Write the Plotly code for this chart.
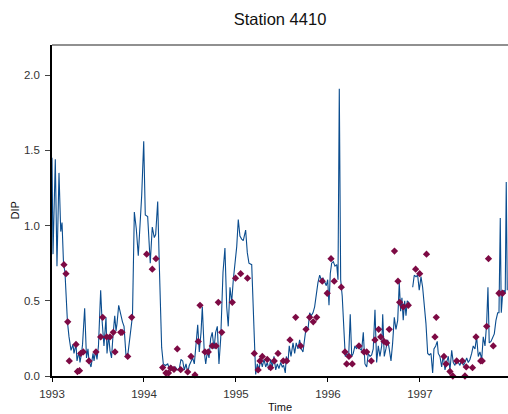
import plotly.graph_objects as go

# Weekly DIP record (decimal year, concentration); None marks a missing week
line_time = [
    1993.000, 1993.011, 1993.036, 1993.054, 1993.076, 1993.095, 1993.109, 1993.125,
    1993.141, 1993.168, 1993.185, 1993.207, 1993.228, 1993.239, 1993.261, 1993.272,
    1993.293, 1993.304, 1993.321, 1993.332, 1993.355, 1993.375, 1993.391, 1993.402,
    1993.424, 1993.446, 1993.457, 1993.473, 1993.489, 1993.505, 1993.529, 1993.543,
    1993.565, 1993.587, 1993.598, 1993.616, 1993.630, 1993.647, 1993.663, 1993.682,
    1993.696, 1993.707, 1993.725, 1993.739, 1993.750, 1993.766, 1993.783, 1993.804,
    1993.826, 1993.853, 1993.875, 1993.895, 1993.916, 1993.938, 1993.957, 1993.975,
    1993.997, 1994.014, 1994.040, 1994.054, 1994.068, 1994.090, 1994.112, 1994.127,
    1994.149, 1994.166, 1994.179, 1994.192, 1994.210, 1994.232, 1994.258, 1994.275,
    1994.293, 1994.312, 1994.340, 1994.366, 1994.384, 1994.402, 1994.421, 1994.438,
    1994.457, 1994.475, 1994.492, 1994.511, 1994.529, 1994.547, 1994.565, 1994.584,
    1994.601, 1994.620, 1994.634, 1994.655, 1994.671, 1994.688, 1994.707, 1994.725,
    1994.742, 1994.761, 1994.779, 1994.797, 1994.815, 1994.834, 1994.859, 1994.880,
    1994.899, 1994.916, 1994.935, 1994.953, 1994.971, 1994.989, 1995.008, 1995.025,
    1995.043, 1995.062, 1995.079, 1995.105, 1995.123, 1995.141, 1995.171, 1995.196,
    1995.214, 1995.232, 1995.250, 1995.268, 1995.286, 1995.304, 1995.323, 1995.340,
    1995.359, 1995.377, 1995.395, 1995.413, 1995.432, 1995.449, 1995.467, 1995.486,
    1995.503, 1995.518, 1995.536, 1995.547, 1995.565, 1995.579, 1995.598, 1995.620,
    1995.638, 1995.655, 1995.674, 1995.692, 1995.710, 1995.728, 1995.747, 1995.764,
    1995.783, 1995.801, 1995.818, 1995.837, 1995.855, 1995.873, 1995.891, 1995.910,
    1995.927, 1995.946, 1995.964, 1995.982, 1995.997, 1996.011, 1996.025, 1996.040,
    1996.058, 1996.076, 1996.095, 1996.109, 1996.123, 1996.138, 1996.155, 1996.174,
    1996.188, 1996.207, 1996.225, 1996.242, 1996.258, 1996.275, 1996.293, 1996.312,
    1996.329, 1996.348, 1996.366, 1996.384, 1996.402, 1996.421, 1996.438, 1996.457,
    1996.475, 1996.492, 1996.511, 1996.529, 1996.547, 1996.565, 1996.584, 1996.595,
    1996.612, 1996.630, 1996.649, 1996.666, 1996.685, 1996.703, 1996.721, 1996.739,
    1996.758, 1996.775, 1996.790, 1996.804, 1996.818, 1996.834, 1996.848, 1996.862,
    1996.877, 1996.891, 1996.905, 1996.921, 1996.938, 1996.957, 1996.975, 1996.992,
    1997.011, 1997.029, 1997.047, 1997.065, 1997.084, 1997.101, 1997.120, 1997.138,
    1997.152, 1997.171, 1997.188, 1997.199, 1997.217, 1997.236, 1997.253, 1997.272,
    1997.290, 1997.308, 1997.326, 1997.345, 1997.362, 1997.380, 1997.399, 1997.416,
    1997.435, 1997.453, 1997.471, 1997.489, 1997.508, 1997.525, 1997.543, 1997.562,
    1997.579, 1997.598, 1997.616, 1997.634, 1997.652, 1997.671, 1997.688, 1997.707,
    1997.725, 1997.739, 1997.753, 1997.772, 1997.790, 1997.808, 1997.826, 1997.845,
    1997.859, 1997.873, 1997.884, 1997.899, 1997.913, 1997.927, 1997.938, 1997.949,
]
line_dip = [
    1.45, 0.81, 1.44, 0.73, 1.35, 0.96, 1.02, 0.75,
    0.69, 0.36, 0.26, 0.17, 0.21, 0.15, 0.21, 0.10,
    0.16, 0.09, 0.15, 0.21, 0.45, 0.12, 0.18, 0.10,
    0.06, 0.15, 0.10, 0.17, 0.11, 0.20, 0.57, 0.38,
    0.20, 0.39, 0.15, 0.27, 0.17, 0.12, 0.27, 0.40,
    0.30, 0.35, 0.47, 0.43, 0.40, 0.36, 0.33, 0.14,
    0.15, 0.30, 0.40, 1.09, 0.98, 0.80, 1.00, 1.20,
    1.56, 1.07, 1.06, 0.93, 0.75, 0.99, 0.92, 0.94,
    1.16, 0.75, 0.45, 0.19, 0.08, 0.07, 0.08, 0.05,
    0.07, 0.05, 0.06, 0.04, 0.05, 0.11, 0.10, 0.04,
    0.08, 0.02, 0.07, 0.10, 0.12, 0.08, 0.22, 0.34,
    0.16, 0.29, 0.46, 0.16, 0.08, 0.16, 0.12, 0.25,
    0.29, 0.18, 0.29, 0.33, 0.08, 0.25, 0.69, 0.85,
    0.46, 0.33, 0.59, 0.49, 0.64, 0.75, 0.86, 1.04,
    0.93, 0.91, 0.90, 0.97, 0.82, 0.75, 0.74, 0.31,
    0.01, 0.08, 0.04, 0.11, 0.06, 0.11, 0.06, 0.09,
    0.04, 0.11, 0.06, 0.13, 0.04, 0.08, 0.05, 0.09,
    0.06, 0.07, 0.02, 0.13, 0.09, 0.20, 0.13, 0.22,
    0.15, 0.22, 0.18, 0.24, 0.18, 0.16, 0.26, 0.33,
    0.31, 0.42, 0.40, 0.42, 0.46, 0.55, 0.62, 0.67,
    0.64, 0.65, 0.62, 0.60, 0.64, 0.47, 0.68, 0.75,
    0.76, 0.73, 0.74, 0.64, 1.91, 0.64, 0.53, 0.24,
    0.13, 0.15, 0.13, 0.41, 0.13, 0.15, 0.20, 0.18,
    0.21, 0.18, 0.17, 0.29, 0.08, 0.06, 0.15, 0.13,
    0.14, 0.18, 0.44, 0.09, 0.20, 0.13, 0.20, 0.41,
    0.13, 0.18, 0.24, 0.18, 0.10, 0.22, 0.39, 0.31,
    0.37, 0.62, 0.43, 0.52, 0.37, 0.50, 0.40, 0.50,
    0.49, 0.48, None, 0.59, 0.67, 0.66, 0.67, 0.57,
    0.66, 0.59, 0.47, 0.35, 0.15, 0.14, 0.15, 0.02,
    0.18, 0.20, 0.23, 0.15, 0.13, 0.06, 0.14, 0.04,
    0.09, 0.13, 0.04, 0.17, 0.09, 0.07, 0.11, 0.09,
    0.07, 0.11, 0.07, 0.09, 0.12, 0.09, 0.11, 0.15,
    0.20, 0.18, 0.26, 0.13, 0.16, 0.11, 0.26, 0.20,
    0.35, 0.59, 0.22, 0.23, 0.25, 0.28, 0.37, 0.42,
    0.42, 1.05, 0.42, 0.55, 0.57, 0.55, 1.29, 0.57,
]

# Discrete bottle samples
sample_time = [
    1993.130, 1993.152, 1993.171, 1993.188, 1993.261, 1993.277, 1993.299, 1993.312,
    1993.340, 1993.402, 1993.478, 1993.529, 1993.551, 1993.595, 1993.630, 1993.666,
    1993.685, 1993.747, 1993.761, 1993.823, 1993.866, 1994.029, 1994.090, 1994.130,
    1994.203, 1994.239, 1994.266, 1994.290, 1994.326, 1994.362, 1994.399, 1994.475,
    1994.511, 1994.554, 1994.590, 1994.609, 1994.663, 1994.699, 1994.742, 1994.783,
    1994.808, 1994.845, 1994.960, 1994.995, 1995.051, 1995.125, 1995.199, 1995.241,
    1995.261, 1995.286, 1995.340, 1995.377, 1995.416, 1995.457, 1995.514, 1995.551,
    1995.587, 1995.649, 1995.703, 1995.761, 1995.801, 1995.840, 1995.877, 1995.938,
    1995.992, 1996.033, 1996.068, 1996.145, 1996.185, 1996.203, 1996.228, 1996.264,
    1996.337, 1996.391, 1996.421, 1996.471, 1996.511, 1996.551, 1996.573, 1996.609,
    1996.638, 1996.666, 1996.723, 1996.761, 1996.779, 1996.818, 1996.873, 1996.953,
    1996.997, 1997.071, 1997.163, 1997.177, 1997.261, 1997.283, 1997.326, 1997.357,
    1997.399, 1997.460, 1997.489, 1997.503, 1997.571, 1997.609, 1997.660, 1997.677,
    1997.725, 1997.745, 1997.797, 1997.859, 1997.897,
]
sample_dip = [
    0.74, 0.68, 0.36, 0.10, 0.21, 0.03, 0.035, 0.15,
    0.16, 0.10, 0.16, 0.26, 0.39, 0.26, 0.26, 0.29,
    0.16, 0.29, 0.29, 0.13, 0.39, 0.81, 0.71, 0.78,
    0.056, 0.02, 0.02, 0.053, 0.044, 0.18, 0.042, 0.027,
    0.13, 0.007, 0.23, 0.47, 0.16, 0.16, 0.20, 0.20,
    0.49, 0.29, 0.49, 0.65, 0.68, 0.65, 0.15, 0.04,
    0.10, 0.13, 0.11, 0.055, 0.10, 0.15, 0.10, 0.10,
    0.24, 0.39, 0.20, 0.31, 0.39, 0.36, 0.39, 0.63,
    0.55, 0.78, 0.63, 0.59, 0.16, 0.08, 0.13, 0.08,
    0.20, 0.16, 0.16, 0.10, 0.24, 0.31, 0.26, 0.23,
    0.22, 0.31, 0.83, 0.63, 0.49, 0.46, 0.47, 0.71,
    0.68, 0.81, 0.26, 0.39, 0.13, 0.08, 0.03, 0.00,
    0.10, 0.10, 0.00, 0.06, 0.055, 0.26, 0.10, 0.10,
    0.33, 0.78, 0.20, 0.55, 0.55,
]

year_ticks = [1993, 1994, 1995, 1996, 1997]
dip_ticks = [0.0, 0.5, 1.0, 1.5, 2.0]

LINE_BLUE = "#0b4d8f"
SAMPLE_RED = "#7d0a44"
FONT = "Liberation Sans, Arial, sans-serif"

fig = go.Figure()
fig.add_trace(go.Scatter(
    x=line_time, y=line_dip, mode="lines",
    line=dict(color=LINE_BLUE, width=1.1),
    connectgaps=False, showlegend=False, hoverinfo="x+y",
))
fig.add_trace(go.Scatter(
    x=sample_time, y=sample_dip, mode="markers",
    marker=dict(symbol="diamond", size=5.6, color=SAMPLE_RED, line=dict(width=0)),
    cliponaxis=False, showlegend=False, hoverinfo="x+y",
))

fig.update_layout(
    width=508, height=414,
    margin=dict(l=52, r=0, t=45, b=38),
    paper_bgcolor="white", plot_bgcolor="white",
    font=dict(family=FONT, size=11.5, color="#333333"),
    title=dict(text="Station 4410", x=0.5, xref="paper", y=1 - 19 / 414,
               yref="container", yanchor="middle",
               font=dict(family=FONT, size=16.5, color="#111111")),
    xaxis=dict(
        range=[1993, 1997.957], tickvals=year_ticks,
        ticktext=[str(v) for v in year_ticks],
        showgrid=False, zeroline=False,
        showline=True, linecolor="black", linewidth=2,
        ticks="outside", ticklen=4, tickwidth=1, tickcolor="black",
        tickfont=dict(family=FONT, size=11.5, color="#333333"),
        ticklabelstandoff=2,
    ),
    yaxis=dict(
        range=[0, 2.2], tickvals=dip_ticks,
        ticktext=[f"{v:.1f}" for v in dip_ticks],
        showgrid=False, zeroline=False,
        showline=True, linecolor="black", linewidth=1.5,
        ticks="outside", ticklen=5, tickwidth=1, tickcolor="#444444",
        tickfont=dict(family=FONT, size=11.5, color="#333333"),
        ticklabelstandoff=3,
    ),
    shapes=[dict(type="line", xref="paper", yref="paper", x0=0, x1=1, y0=1, y1=1,
                 line=dict(color="#222222", width=1.2))],
    annotations=[
        dict(text="DIP", xref="paper", yref="paper", x=-38 / 456, y=0.5,
             textangle=-90, showarrow=False, xanchor="center", yanchor="middle",
             font=dict(family=FONT, size=11, color="#111111")),
        dict(text="Time", xref="paper", yref="paper", x=(280 - 52) / 456, y=-31 / 331,
             showarrow=False, xanchor="center", yanchor="middle",
             font=dict(family=FONT, size=11, color="#111111")),
    ],
)

fig.write_html("out.html")
